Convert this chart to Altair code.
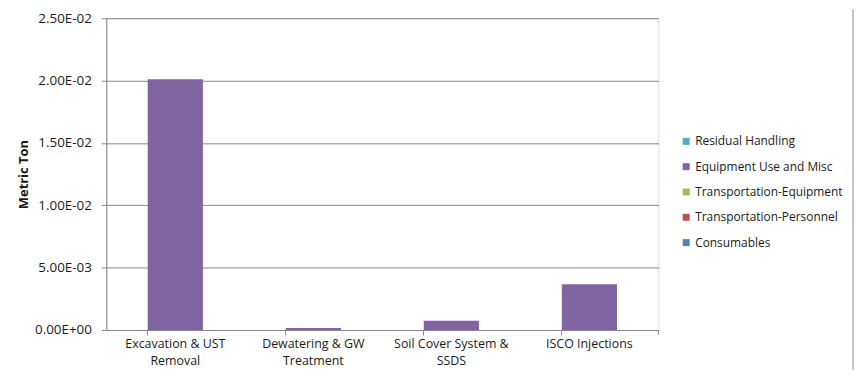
import altair as alt
import pandas as pd

categories = ["Excavation & UST\nRemoval", "Dewatering & GW\nTreatment",
              "Soil Cover System &\nSSDS", "ISCO Injections"]
series = ["Residual Handling", "Equipment Use and Misc", "Transportation-Equipment",
          "Transportation-Personnel", "Consumables"]
colors = ["#4BACC6", "#8064A2", "#9BBB59", "#C0504D", "#4F81BD"]
residual = [0, 0, 0, 0]
equipment = [2.01e-02, 1.6e-04, 7.4e-04, 3.67e-03]
transp_equipment = [0, 0, 0, 0]
transp_personnel = [0, 0, 0, 0]
consumables = [0, 0, 0, 0]
y_ticks = [0, 0.005, 0.01, 0.015, 0.02, 0.025]
y_tick_labels = ["0.00E+00", "5.00E-03", "1.00E-02", "1.50E-02", "2.00E-02", "2.50E-02"]

rows = []
for s, vals in zip(series, [residual, equipment, transp_equipment, transp_personnel, consumables]):
    for c, v in zip(categories, vals):
        rows.append({"category": c, "series": s, "value": v, "order": series.index(s)})
df = pd.DataFrame(rows)

FONT = "Open Sans"
TXT = "#1a1a1a"
GRID = "#868686"
label_lookup = "[" + ",".join("'" + l + "'" for l in y_tick_labels) + "]"

W, H = 556, 314

bars = alt.Chart(df).mark_bar().encode(
    x=alt.X("category:N", sort=categories,
            scale=alt.Scale(paddingInner=0.6, paddingOuter=0.3),
            axis=alt.Axis(title=None, labelAngle=0, labelExpr="split(datum.value, '\\n')",
                          labelLineHeight=17, labelFontSize=12.5, labelFont=FONT,
                          labelColor=TXT, bandPosition=0, tickSize=5,
                          tickColor=GRID, domainColor=GRID, labelPadding=3,
                          grid=False)),
    y=alt.Y("value:Q", stack="zero",
            scale=alt.Scale(domain=[0, 0.025], nice=False),
            axis=alt.Axis(title="Metric Ton", values=y_ticks,
                          labelExpr=label_lookup + "[round(datum.value/0.005)]",
                          labelFontSize=13.5, labelFont=FONT, labelColor=TXT,
                          tickSize=5, tickColor=GRID, labelPadding=10, domainColor=GRID,
                          gridColor=GRID, titleFont=FONT, titleFontSize=13,
                          titleFontWeight="bold", titleColor=TXT, titlePadding=4)),
    color=alt.Color("series:N",
                    scale=alt.Scale(domain=series, range=colors),
                    legend=alt.Legend(title=None, orient="none", legendX=578, legendY=118,
                                      symbolType="square", symbolSize=49, symbolStrokeWidth=0,
                                      labelFont=FONT, labelFontSize=12, labelColor=TXT,
                                      rowPadding=13.5, padding=0, labelOffset=3)),
    order=alt.Order("order:Q", sort="descending"),
)

end_tick = alt.Chart(pd.DataFrame({"a": [0]})).mark_rule(color=GRID, strokeWidth=1).encode(
    x=alt.value(W), y=alt.value(H), y2=alt.value(H + 5)
)

border = alt.Chart(pd.DataFrame({"a": [0]})).mark_rule(color="#8c8c8c", strokeWidth=1).encode(
    x=alt.value(752), y=alt.value(-9), y2=alt.value(360)
)

chart = alt.layer(bars, end_tick, border).properties(
    width=W, height=H,
    autosize=alt.AutoSizeParams(type="none"),
    padding={"left": 99, "top": 9, "right": 197, "bottom": 39},
).configure_view(stroke=None).configure(background="white")

chart.save("out.html", embed_options={"renderer": "svg", "actions": False})
